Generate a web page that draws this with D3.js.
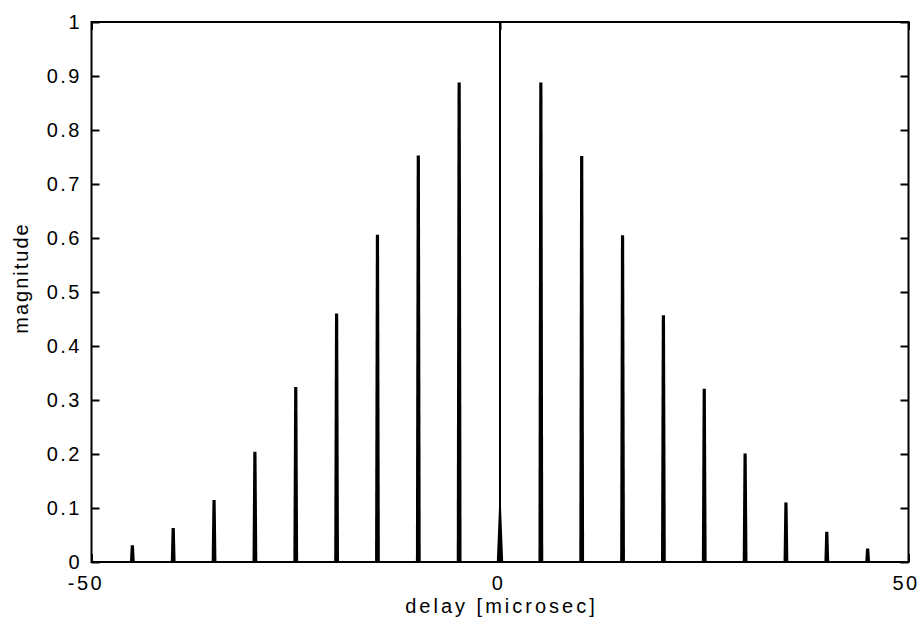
<!DOCTYPE html>
<html>
<head>
<meta charset="utf-8">
<script src="https://cdn.jsdelivr.net/npm/d3@7"></script>
<style>
  html, body { margin: 0; padding: 0; background: #fff; }
  svg text { font-family: "Liberation Sans", Arial, Helvetica, sans-serif; fill: #000; }
</style>
</head>
<body>
<svg id="chart" width="922" height="629"></svg>
<script>
// ---- data ----
const delays = [-45, -40, -35, -30, -25, -20, -15, -10, -5, 0, 5, 10, 15, 20, 25, 30, 35, 40, 45];
const magnitudes = [0.031, 0.063, 0.115, 0.204, 0.324, 0.46, 0.606, 0.753, 0.888, 1.0,
                    0.888, 0.752, 0.605, 0.457, 0.321, 0.201, 0.11, 0.056, 0.025];
const centerPedestal = 0.12;   // small broad pulse under the main peak at delay 0
const xTicks = [-50, 0, 50];
const yTicks = [0, 0.1, 0.2, 0.3, 0.4, 0.5, 0.6, 0.7, 0.8, 0.9, 1];
const xLabel = "delay [microsec]";
const yLabel = "magnitude";

// ---- layout ----
const W = 922, H = 629;
const margin = { left: 91.5, right: 922 - 908.5, top: 22, bottom: 629 - 562 };
const svg = d3.select("#chart");

const x = d3.scaleLinear().domain([-50, 50]).range([margin.left, W - margin.right]);
const y = d3.scaleLinear().domain([0, 1]).range([H - margin.bottom, margin.top]);

const tickLen = 8;
const fontSize = 20;
const ls = 2.5;

// frame
svg.append("rect")
  .attr("x", x(-50)).attr("y", y(1))
  .attr("width", x(50) - x(-50)).attr("height", y(0) - y(1))
  .attr("fill", "none").attr("stroke", "#000").attr("stroke-width", 2);

// y ticks (left & right, inward)
const yAxisL = d3.axisLeft(y).tickValues(yTicks).tickSize(-tickLen).tickPadding(12 - ls)
  .tickFormat(d => d === 0 || d === 1 ? String(d) : d3.format(".1f")(d));
const gL = svg.append("g").attr("transform", `translate(${x(-50)},0)`).call(yAxisL);
const yAxisR = d3.axisRight(y).tickValues(yTicks).tickSize(-tickLen).tickFormat("");
const gR = svg.append("g").attr("transform", `translate(${x(50)},0)`).call(yAxisR);

// x ticks (bottom & top, inward)
const xAxisB = d3.axisBottom(x).tickValues(xTicks).tickSize(-tickLen).tickPadding(17)
  .tickFormat(d => String(d));
const gB = svg.append("g").attr("transform", `translate(0,${y(0)})`).call(xAxisB);
const xAxisT = d3.axisTop(x).tickValues(xTicks).tickSize(-tickLen).tickFormat("");
const gT = svg.append("g").attr("transform", `translate(0,${y(1)})`).call(xAxisT);

[gL, gR, gB, gT].forEach(g => {
  g.select(".domain").remove();
  g.selectAll(".tick line").attr("stroke", "#000").attr("stroke-width", 2);
  g.selectAll(".tick text")
    .attr("font-size", fontSize)
    .attr("letter-spacing", ls + "px")
    .style("font-family", '"Liberation Sans", Arial, sans-serif');
});
gL.selectAll(".tick text").attr("dy", "0.33em");
gB.selectAll(".tick text").attr("dy", "0.55em")
  .attr("dx", d => d === -50 ? -6 : (d === 50 ? -3 : -2));

// ---- spikes ----
const baseHalf = 2.4, topHalf = 1.6;
const spikes = svg.append("g");
delays.forEach((d, i) => {
  const cx = x(d), y0 = y(0), yt = y(magnitudes[i]);
  if (d === 0) {
    // thin main line + small triangular pedestal
    spikes.append("line")
      .attr("x1", cx).attr("x2", cx).attr("y1", y0).attr("y2", yt)
      .attr("stroke", "#000").attr("stroke-width", 2);
    const yp = y(centerPedestal);
    spikes.append("path")
      .attr("d", `M${cx - 3.2},${y0} L${cx - 0.6},${yp} L${cx + 0.6},${yp} L${cx + 3.2},${y0} Z`)
      .attr("fill", "#000");
  } else {
    spikes.append("path")
      .attr("d", `M${cx - baseHalf},${y0} L${cx - topHalf},${yt} L${cx + topHalf},${yt} L${cx + baseHalf},${y0} Z`)
      .attr("fill", "#000");
  }
});

// ---- axis labels ----
svg.append("text")
  .attr("x", x(0) + 1.5).attr("y", 613)
  .attr("text-anchor", "middle")
  .attr("font-size", fontSize)
  .attr("letter-spacing", "3px")
  .text(xLabel);

svg.append("text")
  .attr("transform", `translate(28,278) rotate(-90)`)
  .attr("text-anchor", "middle")
  .attr("font-size", fontSize)
  .attr("letter-spacing", "2px")
  .text(yLabel);
</script>
</body>
</html>
